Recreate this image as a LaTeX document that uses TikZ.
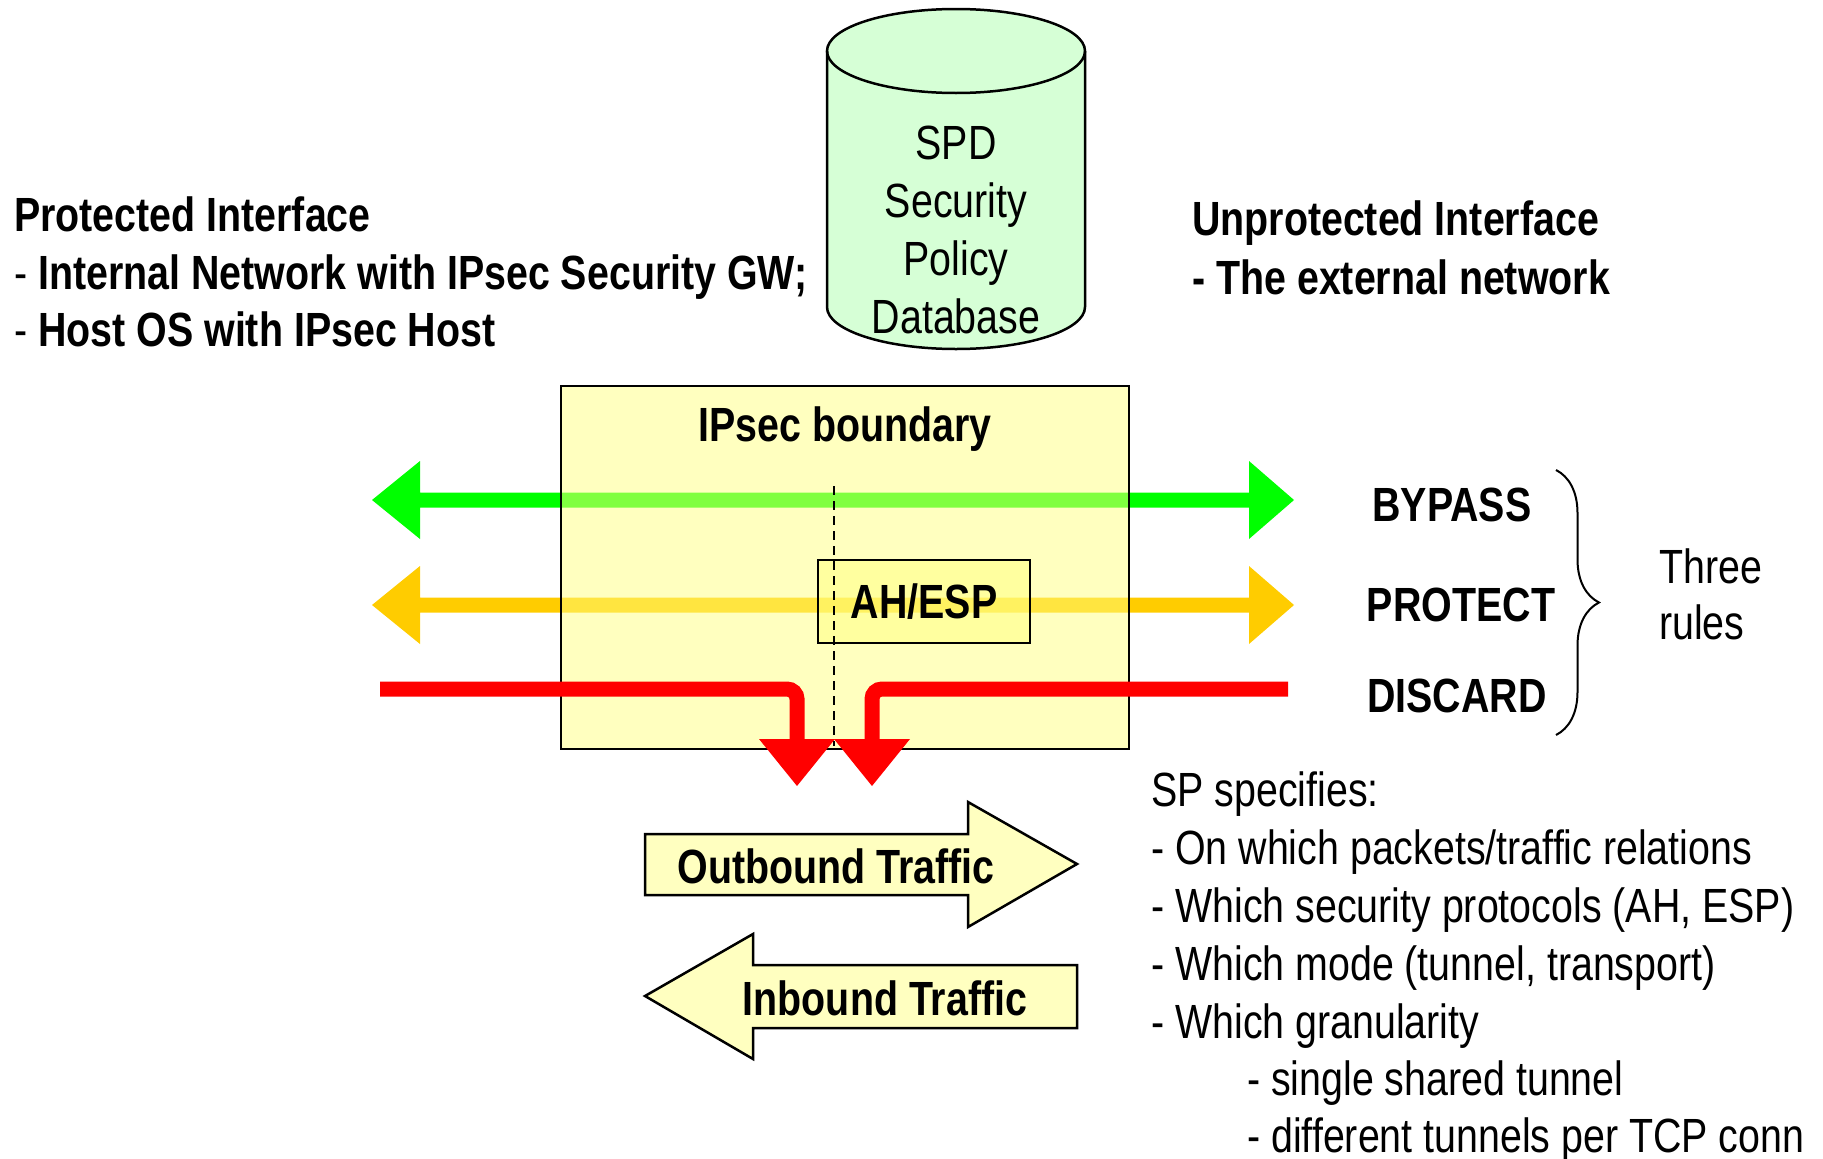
\documentclass[tikz,border=0pt]{standalone}
\usepackage{fontspec}
\setmainfont{Liberation Sans}[FakeStretch=0.82]
\usetikzlibrary{decorations.pathreplacing}

\definecolor{passgreen}{RGB}{0,255,0}
\definecolor{protamber}{RGB}{255,204,0}
\definecolor{dropred}{RGB}{255,0,0}
\definecolor{paleyellow}{RGB}{255,255,192}
\definecolor{boxyellow}{RGB}{255,255,128}
\definecolor{dbgreen}{RGB}{214,255,214}

\begin{document}
\begin{tikzpicture}[x=1pt,y=-1pt,
  txt/.style={inner sep=0, font=\fontsize{48}{58}\selectfont},
  btxt/.style={inner sep=0, font=\fontsize{48}{58}\selectfont\bfseries},
  outline/.style={draw=black, line width=2.5},
  dropline/.style={draw=dropred, line width=15, rounded corners=10},
  glass/.style={fill=boxyellow, fill opacity=0.5, text opacity=1}]

\useasboundingbox (0,0) rectangle (1823,1159);

% ---- policy database (cylinder) ----
\fill[dbgreen] (827,51) -- (827,307) arc[start angle=180, end angle=0, x radius=129, y radius=42]
  -- (1085,51) arc[start angle=0, end angle=-180, x radius=129, y radius=42] -- cycle;
\draw[line width=2.5] (827,51) -- (827,307) arc[start angle=180, end angle=0, x radius=129, y radius=42]
  -- (1085,51);
\draw[line width=2.5] (956,51) ellipse[x radius=129, y radius=42];
\node[txt, anchor=base] (spd1) at (956,159) {SPD};
\node[txt, anchor=base] (spd2) at (956,217) {Security};
\node[txt, anchor=base] (spd3) at (956,275) {Policy};
\node[txt, anchor=base] (spd4) at (956,333) {Database};

% ---- interface descriptions ----
\node[btxt, anchor=base west] (prot1) at (14,231) {Protected Interface};
\node[txt, anchor=base west] (prot2) at (14,289) {- \textbf{Internal Network with IPsec Security GW;}};
\node[txt, anchor=base west] (prot3) at (14,346) {- \textbf{Host OS with IPsec Host}};
\node[btxt, anchor=base west] (unp1) at (1192,235) {Unprotected Interface};
\node[btxt, anchor=base west] (unp2) at (1192,294) {- The external network};

% ---- BYPASS and PROTECT flows ----
\fill[passgreen] (372,500) -- (420,461) -- (420,492.5) -- (1249,492.5) -- (1249,461) -- (1294,500)
  -- (1249,539) -- (1249,507.5) -- (420,507.5) -- (420,539) -- cycle;
\fill[protamber] (372,605) -- (420,566) -- (420,597.5) -- (1249,597.5) -- (1249,566) -- (1294,605)
  -- (1249,644) -- (1249,612.5) -- (420,612.5) -- (420,644) -- cycle;

% ---- IPsec boundary ----
\node[outline, glass, minimum width=568, minimum height=363, inner sep=0] (boundary) at (845,567.5) {};
\node[btxt, anchor=base] (boundlbl) at (845,441) {IPsec boundary};
\node[outline, glass, btxt, minimum width=212, minimum height=83] (ahesp) at (924,601.5) {AH/ESP};

\coordinate (cuttop) at (834,486);
\coordinate (cutbot) at (834,746);
\draw[line width=1.8, dash pattern=on 9 off 6] (cuttop) -- (cutbot);

% ---- DISCARD flows ----
\coordinate (dlin) at (380,689);
\coordinate (drin) at (1288,689);
\draw[dropline] (dlin) -- (797,689) -- (797,741);
\draw[dropline] (drin) -- (872,689) -- (872,741);
\fill[dropred] (759,739) -- (835,739) -- (797,786) -- cycle;
\fill[dropred] (834,739) -- (910,739) -- (872,786) -- cycle;

% ---- rule labels ----
\node[btxt, anchor=base] (bypass) at (1452,521) {BYPASS};
\node[btxt, anchor=base] (protect) at (1461,621) {PROTECT};
\node[btxt, anchor=base] (discard) at (1457,712) {DISCARD};
\coordinate (bracetop) at (1556,470);
\coordinate (bracebot) at (1556,735);
\draw[line width=2, decorate, decoration={brace, amplitude=43}] (bracetop) -- (bracebot);
\node[txt, anchor=base west] (three) at (1659,583) {Three};
\node[txt, anchor=base west] (rules) at (1659,639) {rules};

% ---- traffic direction arrows ----
\draw[outline, fill=paleyellow] (645,834) -- (968,834) -- (968,802) -- (1077,864) -- (968,927)
  -- (968,895) -- (645,895) -- cycle;
\node[btxt, anchor=base] (outbound) at (836,883) {Outbound Traffic};
\draw[outline, fill=paleyellow] (645,996) -- (753,934) -- (753,965) -- (1077,965) -- (1077,1028)
  -- (753,1028) -- (753,1059) -- cycle;
\node[btxt, anchor=base] (inbound) at (885,1015) {Inbound Traffic};

% ---- what a security policy specifies ----
\node[txt, anchor=base west] (sp0) at (1151,806) {SP specifies:};
\node[txt, anchor=base west] (sp1) at (1151,864) {- On which packets/traffic relations};
\node[txt, anchor=base west] (sp2) at (1151,922) {- Which security protocols (AH, ESP)};
\node[txt, anchor=base west] (sp3) at (1151,980) {- Which mode (tunnel, transport)};
\node[txt, anchor=base west] (sp4) at (1151,1038) {- Which granularity};
\node[txt, anchor=base west] (sp5) at (1247,1095) {- single shared tunnel};
\node[txt, anchor=base west] (sp6) at (1247,1152) {- different tunnels per TCP conn};
\end{tikzpicture}
\end{document}
